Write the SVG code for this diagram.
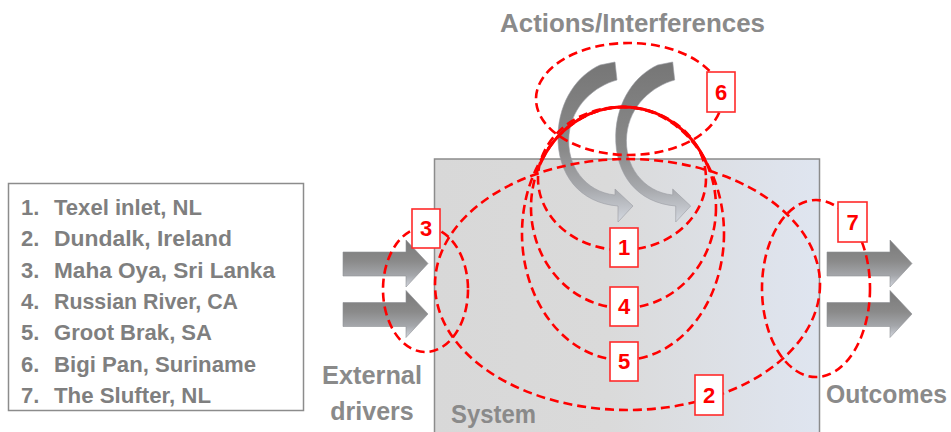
<svg xmlns="http://www.w3.org/2000/svg" xmlns:xlink="http://www.w3.org/1999/xlink" width="951" height="432" viewBox="0 0 951 432">
  <style>
    .title { font-family: "Liberation Sans", Arial, sans-serif; font-weight: bold; font-size: 25px; fill: #8a8a8a; }
    .legend { font-family: "Liberation Sans", Arial, sans-serif; font-weight: bold; font-size: 22px; fill: #7f7f7f; }
    .ring { fill: none; stroke: #ff0000; stroke-width: 2.6; stroke-dasharray: 9 5; }
    .crown { fill: none; stroke: #ff0000; stroke-width: 3; }
    .tag rect { fill: #ffffff; stroke: #ff2a2a; stroke-width: 1.6; }
    .tag text { font-family: "Liberation Sans", Arial, sans-serif; font-weight: bold; font-size: 22px; fill: #ff0000; text-anchor: middle; }
  </style>
  <defs>
    <linearGradient id="sysFill" x1="0" y1="0" x2="1" y2="0">
      <stop offset="0" stop-color="#d8d8d8"/>
      <stop offset="0.45" stop-color="#dadada"/>
      <stop offset="1" stop-color="#dfe5f0"/>
    </linearGradient>
    <linearGradient id="arrowFill" x1="0" y1="0" x2="0" y2="1">
      <stop offset="0" stop-color="#7a7a7a"/>
      <stop offset="0.45" stop-color="#8a8a8a"/>
      <stop offset="0.75" stop-color="#a4a6aa"/>
      <stop offset="1" stop-color="#d2d6de"/>
    </linearGradient>
    <linearGradient id="curveFill" x1="0" y1="0" x2="0" y2="1">
      <stop offset="0" stop-color="#767676"/>
      <stop offset="0.55" stop-color="#8a8a8a"/>
      <stop offset="0.8" stop-color="#a8aaae"/>
      <stop offset="1" stop-color="#d4d8e0"/>
    </linearGradient>
    <!-- straight block arrow pointing right -->
    <path id="blockArrow" d="M 343 252 H 406 V 240 L 428 263.5 L 406 287 V 276 H 343 Z" fill="url(#arrowFill)" stroke="#8e9096" stroke-width="0.6"/>
    <!-- curved arrow sweeping down and to the right -->
    <path id="curveArrow" d="M 600 65 L 615 62 L 617 80 C 595 86, 572 105, 569 135 C 566 165, 585 192, 615 195 L 615 189 L 633 206 L 618 222 L 618 206 C 580 203, 557 175, 558 135 C 559 100, 578 75, 600 65 Z" fill="url(#curveFill)" stroke="#9a9ca2" stroke-width="0.6"/>
  </defs>

  <rect width="951" height="432" fill="#ffffff"/>

  <!-- system block -->
  <g id="system">
    <rect x="434.5" y="159" width="385" height="290" fill="url(#sysFill)" stroke="#8c8c8c" stroke-width="1.5"/>
    <text class="title" x="451" y="423" textLength="85" lengthAdjust="spacingAndGlyphs">System</text>
  </g>

  <!-- legend of sites -->
  <g id="legend">
    <rect x="8.5" y="183.5" width="295" height="227" fill="#ffffff" stroke="#8c8c8c" stroke-width="1.5"/>
    <text class="legend" x="21" y="215">1.</text>
    <text class="legend" x="54" y="215" textLength="148" lengthAdjust="spacingAndGlyphs">Texel inlet, NL</text>
    <text class="legend" x="21" y="246.3">2.</text>
    <text class="legend" x="54" y="246.3" textLength="178" lengthAdjust="spacingAndGlyphs">Dundalk, Ireland</text>
    <text class="legend" x="21" y="277.6">3.</text>
    <text class="legend" x="54" y="277.6" textLength="221" lengthAdjust="spacingAndGlyphs">Maha Oya, Sri Lanka</text>
    <text class="legend" x="21" y="308.9">4.</text>
    <text class="legend" x="54" y="308.9" textLength="184" lengthAdjust="spacingAndGlyphs">Russian River, CA</text>
    <text class="legend" x="21" y="340.2">5.</text>
    <text class="legend" x="54" y="340.2" textLength="158" lengthAdjust="spacingAndGlyphs">Groot Brak, SA</text>
    <text class="legend" x="21" y="371.5">6.</text>
    <text class="legend" x="54" y="371.5" textLength="202" lengthAdjust="spacingAndGlyphs">Bigi Pan, Suriname</text>
    <text class="legend" x="21" y="402.8">7.</text>
    <text class="legend" x="54" y="402.8" textLength="157" lengthAdjust="spacingAndGlyphs">The Slufter, NL</text>
  </g>

  <!-- external drivers -->
  <g id="drivers">
    <use xlink:href="#blockArrow"/>
    <use xlink:href="#blockArrow" transform="translate(0,50.5)"/>
    <text class="title" x="322" y="384" textLength="100" lengthAdjust="spacingAndGlyphs">External</text>
    <text class="title" x="372" y="420" text-anchor="middle">drivers</text>
  </g>

  <!-- outcomes -->
  <g id="outcomes">
    <use xlink:href="#blockArrow" transform="translate(484,0)"/>
    <use xlink:href="#blockArrow" transform="translate(484,50.5)"/>
    <text class="title" x="826" y="403" textLength="121" lengthAdjust="spacingAndGlyphs">Outcomes</text>
  </g>

  <!-- actions / interferences -->
  <g id="actions">
    <use xlink:href="#curveArrow"/>
    <use xlink:href="#curveArrow" transform="translate(57.7,0)"/>
    <text class="title" x="500" y="32" textLength="265" lengthAdjust="spacingAndGlyphs">Actions/Interferences</text>
  </g>

  <!-- site footprints -->
  <g id="connectors">
    <ellipse class="ring" cx="629" cy="99" rx="93" ry="56"/>
    <ellipse class="ring" cx="627.5" cy="284.5" rx="192.5" ry="125.5"/>
    <ellipse class="ring" cx="425.5" cy="289.5" rx="42.5" ry="62.5"/>
    <ellipse class="ring" cx="816" cy="288.5" rx="54" ry="88.5"/>
    <ellipse class="ring" cx="622" cy="178.5" rx="84" ry="71.5"/>
    <ellipse class="ring" cx="623.5" cy="207.5" rx="92.5" ry="100.5"/>
    <ellipse class="ring" cx="623" cy="233.5" rx="101" ry="126.5"/>
    <!-- shared crown of footprints 1, 4 and 5 where the dashes merge -->
    <path class="crown" d="M 539.7 165 A 92.5 100.5 0 0 1 707.3 165"/>
  </g>

  <g id="site1" class="tag"><rect x="610" y="228" width="28" height="39"/><text x="624" y="255">1</text></g>
  <g id="site2" class="tag"><rect x="695" y="375" width="28" height="40"/><text x="709" y="403">2</text></g>
  <g id="site3" class="tag"><rect x="412" y="209" width="28" height="39"/><text x="426" y="236">3</text></g>
  <g id="site4" class="tag"><rect x="610" y="287" width="28" height="39"/><text x="624" y="314">4</text></g>
  <g id="site5" class="tag"><rect x="610" y="342" width="28" height="39"/><text x="624" y="369">5</text></g>
  <g id="site6" class="tag"><rect x="707" y="72" width="28" height="40"/><text x="721" y="100">6</text></g>
  <g id="site7" class="tag"><rect x="838" y="202" width="29" height="40"/><text x="852.5" y="230">7</text></g>
</svg>
